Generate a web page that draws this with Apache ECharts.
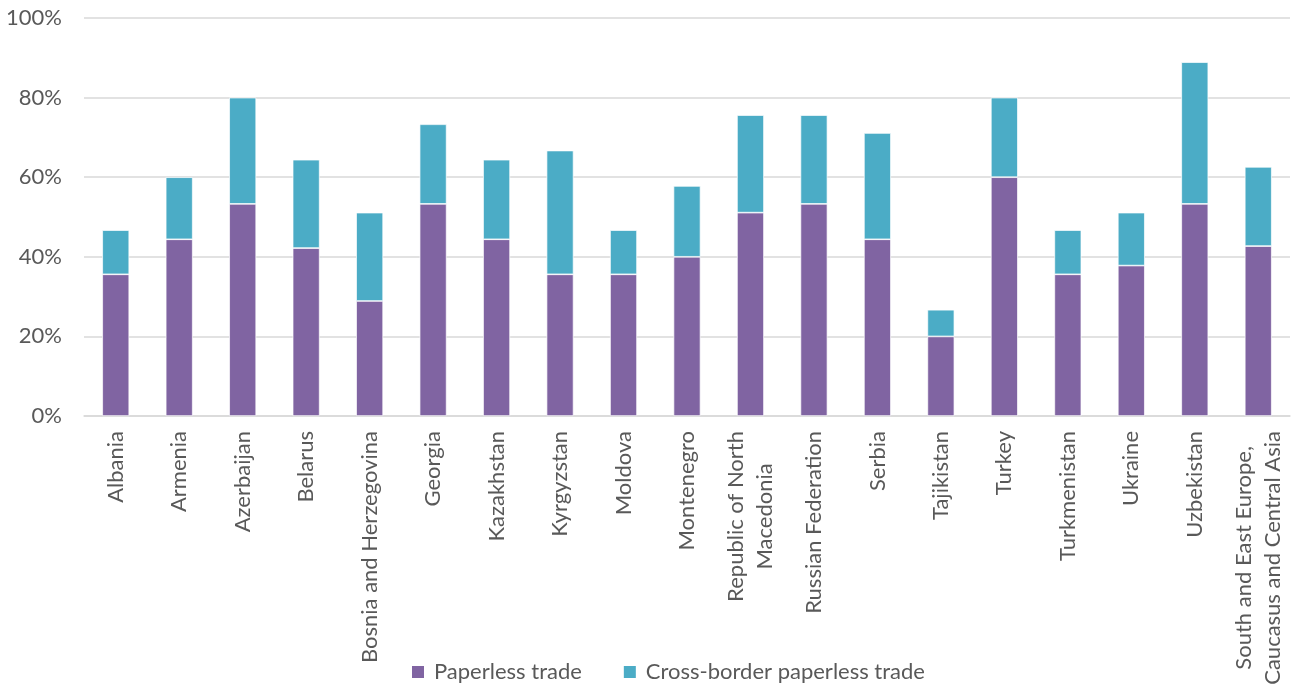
<!DOCTYPE html>
<html>
<head>
<meta charset="utf-8">
<script src="https://cdn.jsdelivr.net/npm/echarts@6/dist/echarts.min.js"></script>
<style>
html,body{margin:0;padding:0;background:#fff;}
#chart{width:1295px;height:693px;}
</style>
</head>
<body>
<div id="chart"></div>
<script>
// Economies shown on the category axis
const categories = [
  'Albania', 'Armenia', 'Azerbaijan', 'Belarus', 'Bosnia and Herzegovina',
  'Georgia', 'Kazakhstan', 'Kyrgyzstan', 'Moldova', 'Montenegro',
  'Republic of North\nMacedonia', 'Russian Federation', 'Serbia', 'Tajikistan',
  'Turkey', 'Turkmenistan', 'Ukraine', 'Uzbekistan',
  'South and East Europe,\nCaucasus and Central Asia'
];

// Implementation rates (%)
const paperless = [35.6, 44.4, 53.3, 42.2, 28.9, 53.3, 44.4, 35.6, 35.6, 40.0,
                   51.1, 53.3, 44.4, 20.0, 60.0, 35.6, 37.8, 53.3, 42.7];
const crossBorder = [11.1, 15.6, 26.7, 22.2, 22.2, 20.0, 20.0, 31.1, 11.1, 17.8,
                     24.5, 22.3, 26.7, 6.7, 20.0, 11.1, 13.3, 35.6, 19.9];

const yTicks = [0, 20, 40, 60, 80, 100];

const font = 'Lato, "Open Sans", sans-serif';
const textColor = '#595959';

const chart = echarts.init(document.getElementById('chart'));
chart.setOption({
  animation: false,
  grid: { left: 84, right: 5, top: 18, bottom: 277 },
  legend: {
    bottom: 5,
    left: 405,
    itemWidth: 14,
    itemHeight: 14,
    itemGap: 40,
    icon: 'rect',
    textStyle: { color: textColor, fontSize: 22, fontFamily: font, padding: [0, 0, 0, 4] },
    data: ['Paperless trade', 'Cross-border paperless trade']
  },
  xAxis: {
    type: 'category',
    data: categories,
    axisLine: { show: true, lineStyle: { color: '#d9d9d9', width: 1.5 } },
    axisTick: { show: false },
    axisLabel: {
      rotate: 90,
      interval: 0,
      margin: 15,
      color: textColor,
      fontSize: 22,
      fontFamily: font,
      lineHeight: 29,
      formatter: v => v.split('\n').map(s => '{c|' + s + '}').join('\n'),
      rich: { c: { align: 'center', fontSize: 22, fontFamily: font, color: textColor, lineHeight: 29 } }
    }
  },
  yAxis: {
    type: 'value',
    min: 0,
    max: 100,
    interval: 20,
    axisLine: { show: false },
    axisTick: { show: false },
    splitLine: { lineStyle: { color: '#d9d9d9', width: 1.5 } },
    axisLabel: {
      color: textColor,
      fontSize: 22,
      fontFamily: font,
      margin: 22,
      formatter: v => (yTicks.includes(v) ? v + '%' : '')
    }
  },
  series: [
    {
      name: 'Paperless trade',
      type: 'bar',
      stack: 'total',
      barWidth: 27,
      data: paperless,
      itemStyle: { color: '#8064A2', borderColor: '#ffffff', borderWidth: 0.7 }
    },
    {
      name: 'Cross-border paperless trade',
      type: 'bar',
      stack: 'total',
      barWidth: 27,
      data: crossBorder,
      itemStyle: { color: '#4BACC6', borderColor: '#ffffff', borderWidth: 0.7 }
    }
  ]
});
</script>
</body>
</html>
